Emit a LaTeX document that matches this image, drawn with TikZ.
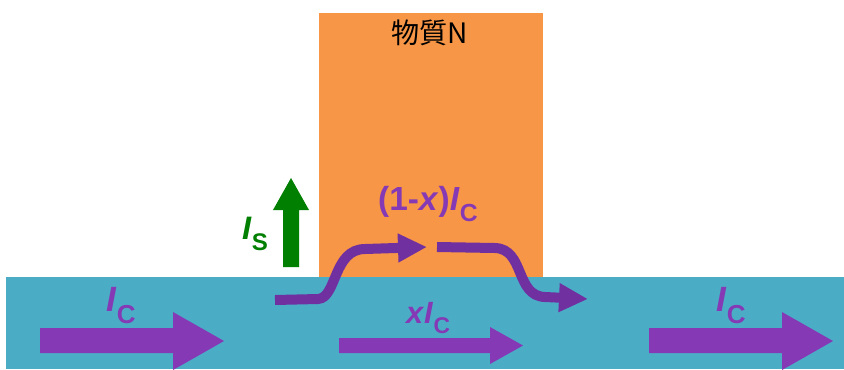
\documentclass[tikz,border=0pt]{standalone}
\usepackage{fontspec}
\setmainfont{Liberation Sans}
\newfontfamily\jpfont{Noto Sans CJK JP}
\usetikzlibrary{arrows.meta}

\definecolor{orangeN}{HTML}{F79646}
\definecolor{blueC}{HTML}{4BACC6}
\definecolor{purpleC}{HTML}{7030A0}
\definecolor{purpleF}{HTML}{8539B5}
\definecolor{greenS}{HTML}{007F00}

\newcommand{\Isub}[1]{\textit{I}\kern0.01em\raisebox{-0.34em}{\scalebox{0.74}{#1}}}

\tikzset{
  lbl/.style={font=\bfseries, inner sep=0pt},
  flow/.style={draw=purpleC, line width=0.2cm, -{Triangle[length=0.58cm,width=0.54cm]}},
}

\begin{document}
\begin{tikzpicture}[x=0.02cm,y=-0.02cm]
\useasboundingbox (0,0) rectangle (844,369);
% layers
\fill[orangeN] (319,13) rectangle (543,277);
\fill[blueC] (6,277) rectangle (844,369);
\node[inner sep=0pt] (matN) at (430,33) {\fontsize{16}{19}\selectfont\jpfont 物質N};
% fat arrows in the blue layer
\fill[purpleF] (40,328) -- (173,328) -- (173,312) -- (224,341) -- (173,370) -- (173,353) -- (40,353) -- cycle;
\fill[purpleF] (339,338) -- (490,338) -- (490,327) -- (523,345.5) -- (490,364) -- (490,353) -- (339,353) -- cycle;
\fill[purpleF] (649,328) -- (782,328) -- (782,312) -- (833,341) -- (782,370) -- (782,353) -- (649,353) -- cycle;
% spin current
\fill[greenS] (283,267) -- (283,210) -- (273,210) -- (291,178) -- (309,210) -- (299,210) -- (299,267) -- cycle;
% curved flows
\coordinate (c1a) at (275,300);
\coordinate (c1b) at (427,247);
\coordinate (c2a) at (437,247);
\coordinate (c2b) at (588,299);
\draw[flow] (c1a) -- (318,299) .. controls (337,298) and (333,249) .. (365,249) -- (c1b);
\draw[flow] (c2a) -- (495,248) .. controls (525,249) and (515,296) .. (545,297) -- (c2b);
% labels
\node[lbl,text=purpleF,font=\bfseries\fontsize{20}{24}\selectfont] (icL) at (121,306) {\Isub{C}};
\node[lbl,text=purpleF,font=\bfseries\fontsize{17.5}{20}\selectfont] (icM) at (428,318) {\textit{x}\Isub{C}};
\node[lbl,text=purpleF,font=\bfseries\fontsize{20}{24}\selectfont] (icR) at (731,306) {\Isub{C}};
\node[lbl,text=purpleF,font=\bfseries\fontsize{19}{22}\selectfont] (icT) at (428,204) {(1-\textit{x})\Isub{C}};
\node[lbl,text=greenS,font=\bfseries\fontsize{18.5}{22}\selectfont] (isL) at (255,234) {\Isub{S}};
\end{tikzpicture}
\end{document}
